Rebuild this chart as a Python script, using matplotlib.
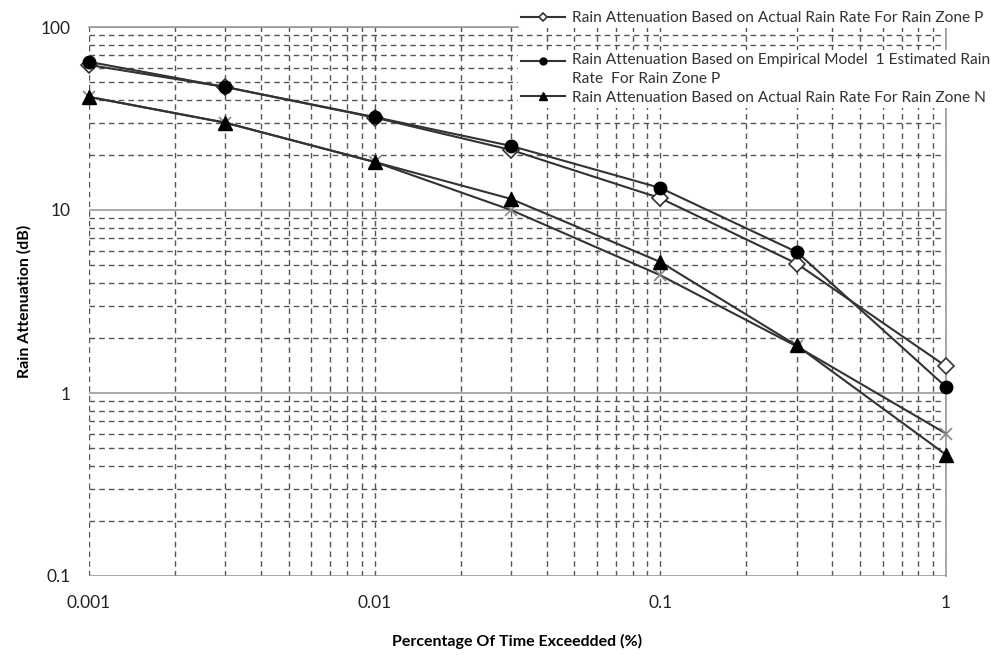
import matplotlib
matplotlib.use("Agg")
import matplotlib.pyplot as plt
from matplotlib.ticker import LogLocator, FixedLocator, FixedFormatter, NullFormatter
from matplotlib.legend_handler import HandlerLine2D

plt.rcParams['font.family'] = ['Lato', 'DejaVu Sans']

# Data
pct_time = [0.001, 0.003, 0.01, 0.03, 0.1, 0.3, 1]
att_actual_P = [62, 47, 32, 21.3, 11.6, 5.1, 1.40]
att_model1_P = [64.5, 47, 32.2, 22.4, 13.2, 5.9, 1.08]
att_actual_N = [41.5, 30, 18.3, 11.5, 5.2, 1.82, 0.46]
att_model1_N = [41.5, 30, 18.3, 10.0, 4.4, 1.80, 0.60]

labels = [
    "Rain Attenuation Based on Actual Rain Rate For Rain Zone P",
    "Rain Attenuation Based on Empirical Model  1 Estimated Rain\nRate  For Rain Zone P",
    "Rain Attenuation Based on Actual Rain Rate For Rain Zone N",
]
x_ticks = [0.001, 0.01, 0.1, 1]
x_ticklabels = ["0.001", "0.01", "0.1", "1"]
y_ticks = [0.1, 1, 10, 100]
y_ticklabels = ["0.1", "1", "10", "100"]


class LeftMarkerHandler(HandlerLine2D):
    def __init__(self, dy=0.0, **kw):
        super().__init__(**kw)
        self.dy = dy

    def get_xdata(self, legend, xdescent, ydescent, width, height, fontsize):
        xdata = [-xdescent, -xdescent + width]
        return xdata, [-xdescent + 0.38 * width]

    def create_artists(self, *args, **kwargs):
        arts = super().create_artists(*args, **kwargs)
        for a in arts:
            a.set_ydata([y + self.dy for y in a.get_ydata()])
        return arts


fig = plt.figure(figsize=(10.04, 6.61), dpi=100)
ax = fig.add_axes([89/1004, 1 - 576/661, (946 - 89)/1004, (576 - 27)/661])

lc = '#333333'
l1, = ax.plot(pct_time, att_actual_P, color=lc, lw=1.5, marker='D', ms=8,
              mfc='white', mec='#333333', mew=1.2, zorder=3, clip_on=False)
l2, = ax.plot(pct_time, att_model1_P, color=lc, lw=1.5, marker='o', ms=9,
              mfc='black', mec='black', zorder=4, clip_on=False)
l4, = ax.plot(pct_time, att_model1_N, color=lc, lw=1.5, marker='x', ms=9,
              mec='#888888', mew=1.2, zorder=3, clip_on=False)
l3, = ax.plot(pct_time, att_actual_N, color=lc, lw=1.5, marker='^', ms=10,
              mfc='black', mec='black', zorder=4, clip_on=False)

ax.set_xscale('log')
ax.set_yscale('log')
ax.set_xlim(0.001, 1)
ax.set_ylim(0.1, 100)

ax.xaxis.set_major_locator(FixedLocator(x_ticks))
ax.xaxis.set_major_formatter(FixedFormatter(x_ticklabels))
ax.yaxis.set_major_locator(FixedLocator(y_ticks))
ax.yaxis.set_major_formatter(FixedFormatter(y_ticklabels))
ax.xaxis.set_minor_locator(LogLocator(base=10, subs=range(2, 10)))
ax.yaxis.set_minor_locator(LogLocator(base=10, subs=range(2, 10)))
ax.xaxis.set_minor_formatter(NullFormatter())
ax.yaxis.set_minor_formatter(NullFormatter())

ax.grid(True, which='major', axis='y', color='#999999', lw=1.2, ls='-')
ax.grid(True, which='minor', axis='y', color='#555555', lw=1.0, ls=(0, (4, 3)))
ax.grid(True, which='both', axis='x', color='#555555', lw=1.0, ls=(0, (4, 3)))

ax.tick_params(which='both', length=0, labelsize=12.5, colors='#222222')
ax.tick_params(axis='y', pad=13)
ax.tick_params(axis='x', pad=14)
for s in ['left', 'bottom']:
    ax.spines[s].set_visible(False)
for s in ['top', 'right']:
    ax.spines[s].set_color('#999999')
    ax.spines[s].set_linewidth(1.2)

ax.set_xlabel("Percentage Of Time Exceedded (%)", fontsize=11.5, fontweight='bold', labelpad=16)
ax.set_ylabel("Rain Attenuation (dB)", fontsize=11.5, fontweight='bold', labelpad=7)

hmap = {l1: LeftMarkerHandler(), l2: LeftMarkerHandler(dy=6.0), l3: LeftMarkerHandler()}
common = dict(loc='upper left', frameon=True, fontsize=11.2, handlelength=2.8,
              handletextpad=0.5, borderpad=0.2, markerscale=0.55, handler_map=hmap,
              borderaxespad=0, labelcolor='#333333')
leg1 = fig.legend([l1], [labels[0]], bbox_to_anchor=(518/1004, 1 - 8/661), **common)
leg2 = fig.legend([l2, l3], [labels[1], labels[2]], bbox_to_anchor=(518/1004, 1 - 50/661),
                  labelspacing=0.3, **common)
for t in leg2.get_texts():
    t.set_linespacing(1.45)
for lg in (leg1, leg2):
    lg.get_frame().set_edgecolor('none')
    lg.get_frame().set_facecolor('white')
    lg.get_frame().set_alpha(1)
fig.add_artist(leg1)

fig.savefig("out.png", dpi=100, facecolor='white')
